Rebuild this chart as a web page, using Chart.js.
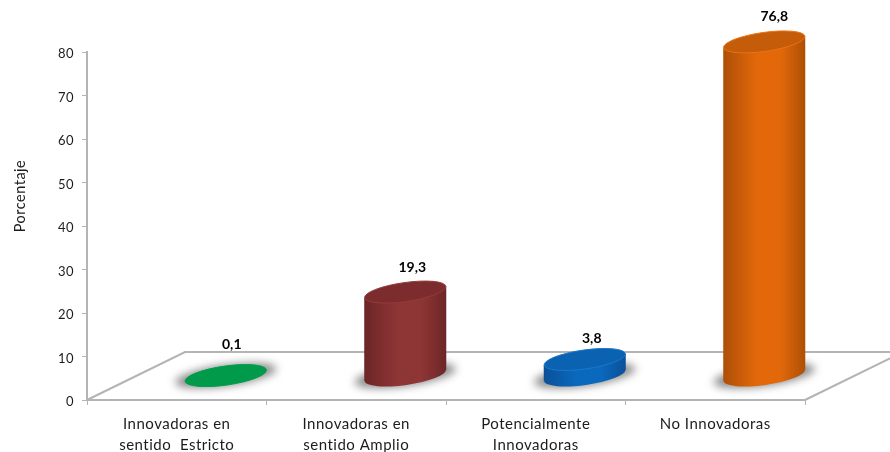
<!DOCTYPE html>
<html lang="es">
<head>
<meta charset="UTF-8">
<title>Porcentaje</title>
<script src="https://cdn.jsdelivr.net/npm/chart.js@4"></script>
<style>
  body { margin: 0; background: #fff; }
</style>
</head>
<body>
<canvas id="chart" width="890" height="452"></canvas>
<script>
const categories = [
    ["Innovadoras en", "sentido  Estricto"],
    ["Innovadoras en", "sentido Amplio"],
    ["Potencialmente", "Innovadoras"],
    ["No Innovadoras"]
];
const values = [0.1, 19.3, 3.8, 76.8];
const yTicks = [0, 10, 20, 30, 40, 50, 60, 70, 80];
const yTitle = "Porcentaje";

// side gradient: edge, centre / top face / rim
const barColors = [
    { edge: "#007a3a", mid: "#009a4a", top: "#009a4a", rim: "#00a04e" },
    { edge: "#6c2626", mid: "#8e3535", top: "#7c2c2c", rim: "#953a3a" },
    { edge: "#0a5098", mid: "#0a69bd", top: "#0a62b0", rim: "#1a78cc" },
    { edge: "#ad4f07", mid: "#e2680a", top: "#c55c0a", rim: "#ea7312" }
];
// the picture doesn't place labels dead centre
const labelNudge = [[6, -31], [7, -25], [7, -21], [10, -25]];

const GREY = "#b4b4b4";
const TEXT = "#1c1c1c";
const FONT = "Lato";
const DEPTH_X = 98, DEPTH_Y = 48;   // floor depth
const TILT = -8 * Math.PI / 180;

function ellipse(c, x, y, rx, ry) {
    c.beginPath();
    c.ellipse(x, y, rx, ry, TILT, 0, Math.PI * 2);
}

const floor3d = {
    id: "floor3d",
    beforeDraw(chart) {
        // Calibri-ish spacing for the axis text
        chart.ctx.letterSpacing = "0.5px";
    },
    beforeDatasetsDraw(chart) {
        const c = chart.ctx, a = chart.chartArea;
        c.save();
        c.strokeStyle = GREY;
        c.lineWidth = 2;
        c.beginPath();
        c.moveTo(a.left, a.bottom);
        c.lineTo(a.left + DEPTH_X, a.bottom - DEPTH_Y);
        c.lineTo(a.right + DEPTH_X, a.bottom - DEPTH_Y);
        c.lineTo(a.right, a.bottom);
        c.stroke();
        c.restore();
    }
};

const cylinders = {
    id: "cylinders",
    afterDatasetsDraw(chart) {
        const c = chart.ctx;
        const bars = chart.getDatasetMeta(0).data;
        bars.forEach((bar, i) => {
            const col = barColors[i];
            const cx = bar.x + DEPTH_X / 2;
            const baseY = bar.base - DEPTH_Y / 2;
            const topY = bar.y - DEPTH_Y / 2;
            const hw = bar.width / 2;
            const rx = hw, ry = 9.5;
            const off = 5.6;  // tilt offset at the ellipse's left/right extremes

            // shadow on the floor
            c.save();
            c.filter = "blur(4px)";
            c.fillStyle = "#8a8a8a";
            ellipse(c, cx, baseY, rx + 10, ry + 1);
            c.fill();
            c.restore();

            // side
            const g = c.createLinearGradient(cx - hw, 0, cx + hw, 0);
            g.addColorStop(0, col.edge);
            g.addColorStop(0.4, col.mid);
            g.addColorStop(0.7, col.mid);
            g.addColorStop(1, col.edge);
            c.fillStyle = g;
            ellipse(c, cx, baseY, rx, ry);
            c.fill();
            c.beginPath();
            c.moveTo(cx - hw, topY + off);
            c.lineTo(cx + hw, topY - off);
            c.lineTo(cx + hw, baseY - off);
            c.lineTo(cx - hw, baseY + off);
            c.closePath();
            c.fill();

            // top face
            ellipse(c, cx, topY, rx, ry);
            c.fillStyle = col.top;
            c.fill();
            c.strokeStyle = col.rim;
            c.lineWidth = 1;
            c.stroke();

            // value label
            c.save();
            c.letterSpacing = "0px";
            c.font = "bold 14px " + FONT;
            c.fillStyle = "#000";
            c.textAlign = "center";
            c.textBaseline = "middle";
            c.fillText(String(values[i]).replace(".", ","), cx + labelNudge[i][0], topY + labelNudge[i][1]);
            c.restore();
        });

        // axis title sits above the scale's middle in the original
        c.save();
        c.translate(20, 196);
        c.rotate(-Math.PI / 2);
        c.font = "14.5px " + FONT;
        c.fillStyle = TEXT;
        c.textAlign = "center";
        c.textBaseline = "middle";
        c.fillText(yTitle, 0, 0);
        c.restore();
    }
};

new Chart(document.getElementById("chart"), {
    type: "bar",
    data: {
        labels: categories,
        datasets: [{
            data: values,
            backgroundColor: "transparent",
            barPercentage: 0.457,
            categoryPercentage: 1
        }]
    },
    options: {
        responsive: false,
        animation: false,
        layout: { padding: { top: 52, right: 85, bottom: 0, left: 0 } },
        plugins: { legend: { display: false }, tooltip: { enabled: false } },
        scales: {
            x: {
                afterFit(scale) { scale.height = 52; },
                grid: { drawOnChartArea: false, color: GREY, tickLength: 5, offset: true },
                border: { color: GREY, width: 2 },
                ticks: {
                    color: TEXT,
                    maxRotation: 0,
                    padding: 8,
                    font: { family: FONT, size: 15, lineHeight: 1.45 }
                }
            },
            y: {
                min: 0,
                max: 80,
                afterFit(scale) { scale.width = 87; },
                afterBuildTicks(scale) { scale.ticks = yTicks.map(v => ({ value: v })); },
                grid: { drawOnChartArea: false, color: GREY, tickLength: 5 },
                border: { color: GREY, width: 2 },
                ticks: {
                    color: TEXT,
                    padding: 8,
                    labelOffset: 2,
                    font: { family: FONT, size: 13 }
                }
            }
        }
    },
    plugins: [floor3d, cylinders]
});
</script>
</body>
</html>
